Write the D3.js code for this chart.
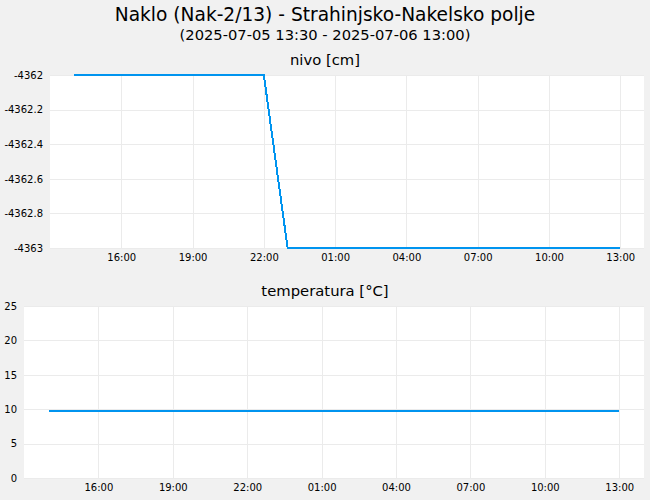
<!DOCTYPE html>
<html>
<head>
<meta charset="utf-8">
<script src="https://cdn.jsdelivr.net/npm/d3@7"></script>
<style>
  body { margin: 0; background: #f1f1f1; }
  svg { display: block; font-family: "DejaVu Sans", sans-serif; }
</style>
</head>
<body>
<svg id="chart" width="650" height="500"></svg>
<script>
// hourly readings, 2025-07-05 14:00 .. 2025-07-06 13:00
const times = [
  "2025-07-05T14:00", "2025-07-05T15:00", "2025-07-05T16:00", "2025-07-05T17:00",
  "2025-07-05T18:00", "2025-07-05T19:00", "2025-07-05T20:00", "2025-07-05T21:00",
  "2025-07-05T22:00", "2025-07-05T23:00", "2025-07-06T00:00", "2025-07-06T01:00",
  "2025-07-06T02:00", "2025-07-06T03:00", "2025-07-06T04:00", "2025-07-06T05:00",
  "2025-07-06T06:00", "2025-07-06T07:00", "2025-07-06T08:00", "2025-07-06T09:00",
  "2025-07-06T10:00", "2025-07-06T11:00", "2025-07-06T12:00", "2025-07-06T13:00",
];
const nivo = [
  -4362, -4362, -4362, -4362, -4362, -4362, -4362, -4362, -4362,
  -4363, -4363, -4363, -4363, -4363, -4363, -4363, -4363, -4363,
  -4363, -4363, -4363, -4363, -4363, -4363,
];
const temperatura = [
  9.7, 9.7, 9.7, 9.7, 9.7, 9.7, 9.7, 9.7, 9.7, 9.7, 9.7, 9.7,
  9.7, 9.7, 9.7, 9.7, 9.7, 9.7, 9.7, 9.7, 9.7, 9.7, 9.7, 9.7,
];
const xTicks = [
  "2025-07-05T16:00", "2025-07-05T19:00", "2025-07-05T22:00", "2025-07-06T01:00",
  "2025-07-06T04:00", "2025-07-06T07:00", "2025-07-06T10:00", "2025-07-06T13:00",
];
const xDomain = ["2025-07-05T13:00", "2025-07-06T14:00"];
const nivoTicks = [-4363, -4362.8, -4362.6, -4362.4, -4362.2, -4362];
const tempTicks = [0, 5, 10, 15, 20, 25];

const parse = d3.utcParse("%Y-%m-%dT%H:%M");
const fmt = d3.utcFormat("%H:%M");
const svg = d3.select("#chart");

svg.append("text")
  .attr("x", 325).attr("y", 21)
  .attr("text-anchor", "middle")
  .attr("font-size", 18.6)
  .text("Naklo (Nak-2/13) - Strahinjsko-Nakelsko polje");
svg.append("text")
  .attr("x", 325).attr("y", 40)
  .attr("text-anchor", "middle")
  .attr("font-size", 14.7)
  .text("(2025-07-05 13:30 - 2025-07-06 13:00)");

function panel(opts) {
  const { left, top, right, bottom, title, values, yDomain, yTicks, yFmt } = opts;
  const x = d3.scaleUtc().domain(xDomain.map(parse)).range([left, right]);
  const y = d3.scaleLinear().domain(yDomain).range([bottom, top]);
  const g = svg.append("g");

  g.append("rect")
    .attr("x", left).attr("y", top)
    .attr("width", right - left).attr("height", bottom - top)
    .attr("fill", "#fff");

  // grid
  g.selectAll(".vgrid").data(xTicks.map(parse)).enter().append("line")
    .attr("x1", (d) => Math.round(x(d)) + 0.5).attr("x2", (d) => Math.round(x(d)) + 0.5)
    .attr("y1", top).attr("y2", bottom)
    .attr("stroke", "#ebebeb");
  g.selectAll(".hgrid").data(yTicks).enter().append("line")
    .attr("x1", left).attr("x2", right)
    .attr("y1", (d) => Math.round(y(d)) + 0.5).attr("y2", (d) => Math.round(y(d)) + 0.5)
    .attr("stroke", "#ebebeb");

  // axes
  const xa = g.append("g")
    .attr("transform", `translate(0,${bottom})`)
    .call(d3.axisBottom(x).tickValues(xTicks.map(parse)).tickFormat(fmt).tickSize(0).tickPadding(6));
  const ya = g.append("g")
    .attr("transform", `translate(${left},0)`)
    .call(d3.axisLeft(y).tickValues(yTicks).tickFormat(yFmt).tickSize(0).tickPadding(7));
  [xa, ya].forEach((a) => {
    a.select(".domain").remove();
    a.selectAll("text").attr("font-size", 10).attr("fill", "#000")
      .attr("font-family", "DejaVu Sans, sans-serif");
  });

  g.append("text")
    .attr("x", 325).attr("y", top - 10)
    .attr("text-anchor", "middle")
    .attr("font-size", 14.8)
    .text(title);

  const line = d3.line()
    .x((d, i) => x(parse(times[i])))
    .y((d) => y(d));
  g.append("path")
    .datum(values)
    .attr("d", line)
    .attr("fill", "none")
    .attr("stroke", "#0094ef")
    .attr("stroke-width", 2)
    .attr("shape-rendering", "crispEdges");
}

panel({
  left: 50, top: 75, right: 644, bottom: 248,
  title: "nivo [cm]",
  values: nivo,
  yDomain: [-4363, -4362],
  yTicks: nivoTicks,
  yFmt: (d) => d3.format("")(+d.toFixed(1)).replace("−", "-"),
});

panel({
  left: 24, top: 306, right: 644, bottom: 478,
  title: "temperatura [°C]",
  values: temperatura,
  yDomain: [0, 25],
  yTicks: tempTicks,
  yFmt: d3.format("d"),
});
</script>
</body>
</html>
